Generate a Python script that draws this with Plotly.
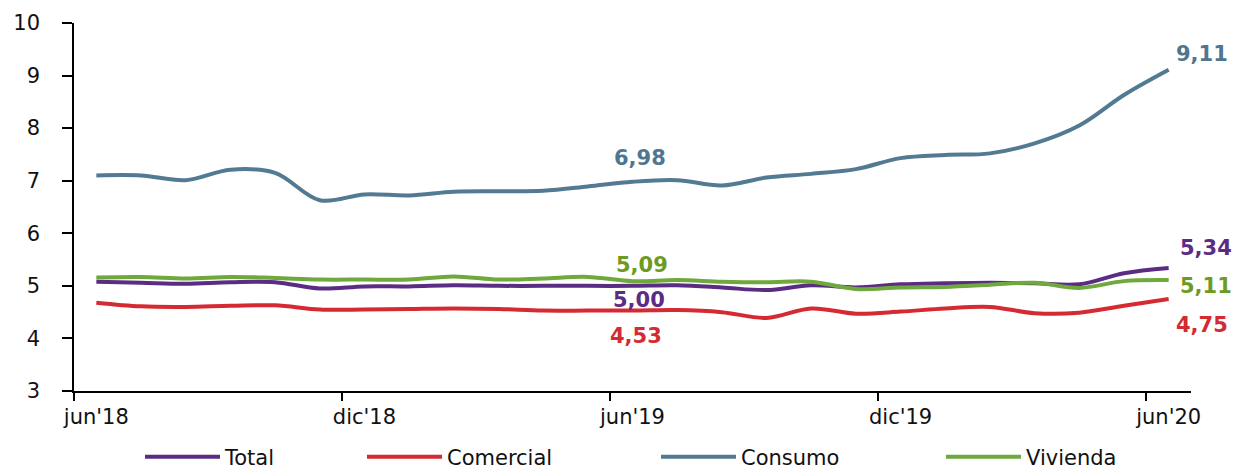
import plotly.graph_objects as go

months = list(range(25))  # jun'18 ... jun'20, monthly
tick_pos = [0, 6, 12, 18, 24]
tick_labels = ["jun'18", "dic'18", "jun'19", "dic'19", "jun'20"]
boundary_ticks = [-0.5, 5.5, 11.5, 17.5, 23.5]

total = [5.08, 5.06, 5.04, 5.07, 5.07, 4.95, 4.99, 4.99, 5.01, 5.00, 5.00, 5.00, 5.00,
         5.01, 4.97, 4.92, 5.01, 4.97, 5.03, 5.05, 5.06, 5.05, 5.03, 5.24, 5.34]
comercial = [4.68, 4.61, 4.60, 4.62, 4.63, 4.55, 4.55, 4.56, 4.57, 4.56, 4.53, 4.53, 4.53,
             4.54, 4.50, 4.39, 4.57, 4.47, 4.51, 4.57, 4.60, 4.48, 4.49, 4.62, 4.75]
consumo = [7.10, 7.10, 7.01, 7.21, 7.15, 6.63, 6.74, 6.72, 6.79, 6.80, 6.81, 6.89, 6.98,
           7.01, 6.91, 7.06, 7.13, 7.22, 7.43, 7.49, 7.52, 7.71, 8.05, 8.63, 9.11]
vivienda = [5.16, 5.17, 5.14, 5.17, 5.15, 5.12, 5.12, 5.12, 5.18, 5.12, 5.14, 5.17, 5.09,
            5.11, 5.08, 5.07, 5.08, 4.94, 4.97, 4.98, 5.02, 5.06, 4.96, 5.09, 5.11]

series = [
    ("Total", total, "#5b2c83", "#5b2c83"),
    ("Comercial", comercial, "#d62a32", "#d62a32"),
    ("Consumo", consumo, "#527a92", "#4f7690"),
    ("Vivienda", vivienda, "#6fa83c", "#6e9a1f"),
]

# page body has an 8px default margin, so the figure is sized/offset to compensate
OFF = 8
W, H = 1249 - OFF, 469 - OFF
FONT = "DejaVu Sans, Verdana, sans-serif"
LBL = dict(family=FONT, size=21, weight="bold")

legend_names = ["legend", "legend2", "legend3", "legend4"]
legend_left_px = [140, 362, 656, 941]  # screen px where each legend box starts

fig = go.Figure()
for (name, vals, col, _), lg in zip(series, legend_names):
    fig.add_trace(go.Scatter(x=months, y=vals, name=name, mode="lines", legend=lg,
                             line=dict(color=col, width=4, shape="spline", smoothing=1),
                             hoverinfo="skip"))

def fmt(v):
    return f"{v:.2f}".replace(".", ",")

ann = []
mid = 12
mid_specs = [(consumo, 2, 7, 24), (vivienda, 3, 9, 16), (total, 0, 6, -14), (comercial, 1, 3, -25)]
for vals, si, xs, ys in mid_specs:
    ann.append(dict(x=months[mid], y=vals[mid], xref="x", yref="y", text=fmt(vals[mid]),
                    showarrow=False, xanchor="center", yanchor="middle", xshift=xs, yshift=ys,
                    font=dict(LBL, color=series[si][3])))
end = 24
end_specs = [(consumo, 2, 5, 16), (total, 0, 9, 20), (vivienda, 3, 9, -6), (comercial, 1, 5, -26)]
for vals, si, xs, ys in end_specs:
    ann.append(dict(x=months[end], y=vals[end], xref="x", yref="y", text=fmt(vals[end]),
                    showarrow=False, xanchor="left", yanchor="middle", xshift=xs, yshift=ys,
                    font=dict(LBL, color=series[si][3])))

layout_legends = {}
for lg, px in zip(legend_names, legend_left_px):
    layout_legends[lg] = dict(orientation="h", xref="container", yref="container",
                              x=(px - OFF) / W, xanchor="left", y=(469 - 457) / H, yanchor="middle",
                              font=dict(family=FONT, size=21, color="#111111"), itemwidth=75,
                              bgcolor="rgba(0,0,0,0)", borderwidth=0)

fig.update_layout(
    width=W, height=H,
    margin=dict(l=74 - OFF, r=1249 - 1191, t=23 - OFF, b=469 - 391),
    paper_bgcolor="white", plot_bgcolor="white",
    font=dict(family=FONT, size=21, color="#111111"),
    annotations=ann,
    showlegend=True,
    **layout_legends,
)
fig.update_xaxes(range=[-0.5, 24.5], tickmode="array", tickvals=tick_pos, ticktext=tick_labels,
                 ticks="", showline=True, linecolor="black", linewidth=1.5, showgrid=False,
                 zeroline=False, ticklabelstandoff=6, automargin=False,
                 minor=dict(tickmode="array", tickvals=boundary_ticks, ticks="outside",
                            ticklen=8, tickcolor="black", tickwidth=1.5, showgrid=False))
fig.update_yaxes(range=[3, 10], dtick=1, tick0=3, ticks="outside", ticklen=10, tickwidth=1.5,
                 tickcolor="black", showline=True, linecolor="black", linewidth=1.5,
                 showgrid=False, zeroline=False, ticklabelstandoff=18, automargin=False)

fig.write_html("out.html")
